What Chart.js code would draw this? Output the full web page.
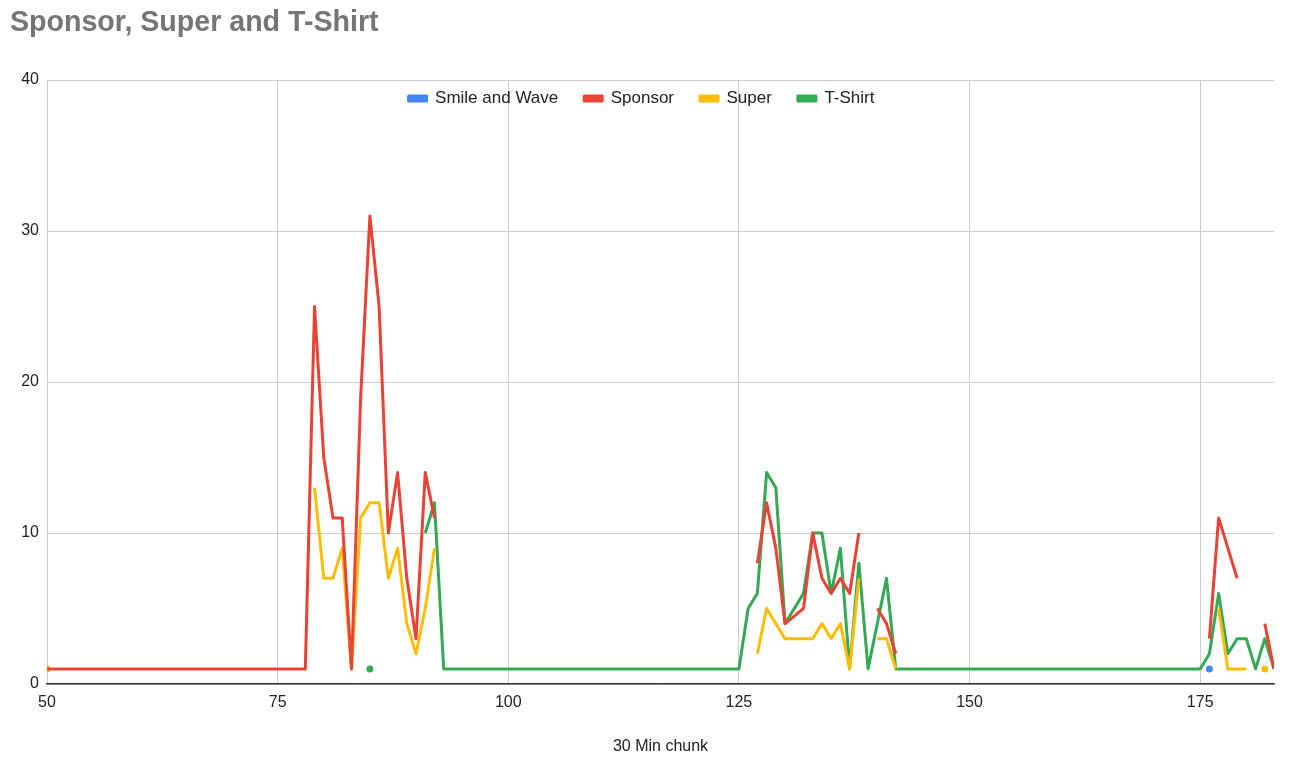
<!DOCTYPE html>
<html>
<head>
<meta charset="utf-8">
<script src="https://cdn.jsdelivr.net/npm/chart.js@4"></script>
<style>
    html, body { margin: 0; padding: 0; background: #fff; }
    #wrap { width: 1290px; height: 762px; }
</style>
</head>
<body>
<div id="wrap"><canvas id="chart" width="1290" height="762"></canvas></div>
<script>
// x = 30 min chunk index, null = no value
const chunks = [];
for (let i = 50; i <= 183; i++) chunks.push(i);

const xTicks = [50, 75, 100, 125, 150, 175];
const yTicks = [0, 10, 20, 30, 40];

// values given as [chunk, value] pairs, everything else is a gap
const smileWavePts = [[176, 1]];

const sponsorPts = [
    [50, 1], [51, 1], [52, 1], [53, 1], [54, 1], [55, 1], [56, 1], [57, 1], [58, 1], [59, 1],
    [60, 1], [61, 1], [62, 1], [63, 1], [64, 1], [65, 1], [66, 1], [67, 1], [68, 1], [69, 1],
    [70, 1], [71, 1], [72, 1], [73, 1], [74, 1], [75, 1], [76, 1], [77, 1], [78, 1],
    [79, 25], [80, 15], [81, 11], [82, 11], [83, 1], [84, 19], [85, 31], [86, 25], [87, 10],
    [88, 14], [89, 7], [90, 3], [91, 14], [92, 11],
    [127, 8], [128, 12], [129, 9], [130, 4], [131, 4.5], [132, 5], [133, 10], [134, 7],
    [135, 6], [136, 7], [137, 6], [138, 10],
    [140, 5], [141, 4], [142, 2],
    [176, 3], [177, 11], [178, 9], [179, 7],
    [182, 4], [183, 1]
];

const superPts = [
    [50, 1],
    [79, 13], [80, 7], [81, 7], [82, 9], [83, 1], [84, 11], [85, 12], [86, 12], [87, 7],
    [88, 9], [89, 4], [90, 2], [91, 5], [92, 9],
    [127, 2], [128, 5], [129, 4], [130, 3], [131, 3], [132, 3], [133, 3], [134, 4],
    [135, 3], [136, 4], [137, 1], [138, 7],
    [140, 3], [141, 3], [142, 1],
    [177, 5], [178, 1], [179, 1], [180, 1],
    [182, 1]
];

const tshirtPts = [
    [85, 1],
    [91, 10], [92, 12],
    [93, 1], [94, 1], [95, 1], [96, 1], [97, 1], [98, 1], [99, 1], [100, 1], [101, 1],
    [102, 1], [103, 1], [104, 1], [105, 1], [106, 1], [107, 1], [108, 1], [109, 1], [110, 1],
    [111, 1], [112, 1], [113, 1], [114, 1], [115, 1], [116, 1], [117, 1], [118, 1], [119, 1],
    [120, 1], [121, 1], [122, 1], [123, 1], [124, 1], [125, 1],
    [126, 5], [127, 6], [128, 14], [129, 13], [130, 4], [131, 5], [132, 6], [133, 10],
    [134, 10], [135, 6], [136, 9], [137, 1], [138, 8], [139, 1], [140, 4], [141, 7],
    [142, 1], [143, 1], [144, 1], [145, 1], [146, 1], [147, 1], [148, 1], [149, 1], [150, 1],
    [151, 1], [152, 1], [153, 1], [154, 1], [155, 1], [156, 1], [157, 1], [158, 1], [159, 1],
    [160, 1], [161, 1], [162, 1], [163, 1], [164, 1], [165, 1], [166, 1], [167, 1], [168, 1],
    [169, 1], [170, 1], [171, 1], [172, 1], [173, 1], [174, 1], [175, 1],
    [176, 2], [177, 6], [178, 2], [179, 3], [180, 3], [181, 1], [182, 3], [183, 1]
];

function toSeries(pts) {
    const map = new Map(pts);
    return chunks.map(c => ({ x: c, y: map.has(c) ? map.get(c) : null }));
}

// only draw a dot where a value has no neighbours (lone points)
function lonePoint(ctx) {
    const data = ctx.dataset.data;
    const i = ctx.dataIndex;
    if (!data[i] || data[i].y === null) return 0;
    const prev = data[i - 1], next = data[i + 1];
    const noPrev = !prev || prev.y === null;
    const noNext = !next || next.y === null;
    return noPrev && noNext ? 3.5 : 0;
}

function makeSet(label, pts, color) {
    return {
        label: label,
        data: toSeries(pts),
        borderColor: color,
        backgroundColor: color,
        borderWidth: 3,
        pointRadius: lonePoint,
        pointHoverRadius: 0,
        pointBorderWidth: 0,
        spanGaps: false,
        tension: 0,
        borderJoinStyle: 'round'
    };
}

// legend sits inside the plot area but laid out in one row, near the top edge
const rowLegend = {
    id: 'rowLegend',
    beforeLayout(chart) {
        if (chart.legend) chart.legend.isHorizontal = () => true;
    },
    afterLayout(chart) {
        if (chart.legend) {
            chart.legend.top -= 16;
            chart.legend.left += 56;
        }
    }
};

const font = "Arial, 'Liberation Sans', sans-serif";

new Chart(document.getElementById('chart'), {
    type: 'line',
    data: {
        datasets: [
            makeSet('Smile and Wave', smileWavePts, '#4285F4'),
            makeSet('Sponsor', sponsorPts, '#EA4335'),
            makeSet('Super', superPts, '#FBBC04'),
            makeSet('T-Shirt', tshirtPts, '#34A853')
        ]
    },
    plugins: [rowLegend],
    options: {
        responsive: false,
        animation: false,
        layout: { padding: { left: 10, right: 16, top: 0, bottom: 2 } },
        plugins: {
            title: {
                display: true,
                text: 'Sponsor, Super and T-Shirt',
                align: 'start',
                color: '#757575',
                font: { family: font, size: 28.6, weight: 'bold' },
                padding: { top: 6, bottom: 39.7 }
            },
            legend: {
                position: 'chartArea',
                align: 'center',
                labels: {
                    color: '#222',
                    font: { family: font, size: 17 },
                    boxWidth: 18,
                    boxHeight: 5,
                    padding: 26
                }
            },
            tooltip: { enabled: false }
        },
        scales: {
            x: {
                type: 'linear',
                min: 50,
                max: 183,
                afterBuildTicks: s => { s.ticks = xTicks.map(v => ({ value: v })); },
                afterFit: s => { s.height = 76; },
                grid: { color: '#cccccc', drawTicks: false },
                border: { color: '#333333', width: 1.5 },
                ticks: {
                    color: '#222',
                    font: { family: font, size: 16 },
                    padding: 9,
                    maxRotation: 0
                },
                title: {
                    display: true,
                    text: '30 Min chunk',
                    color: '#222',
                    font: { family: font, size: 16 },
                    padding: { top: 4, bottom: 4 }
                }
            },
            y: {
                min: 0,
                max: 40,
                afterBuildTicks: s => { s.ticks = yTicks.map(v => ({ value: v })); },
                afterFit: s => { s.width = 37; },
                grid: { color: '#cccccc', drawTicks: false },
                border: { display: false },
                ticks: {
                    color: '#222',
                    font: { family: font, size: 16 },
                    padding: 8
                }
            }
        }
    }
});
</script>
</body>
</html>
